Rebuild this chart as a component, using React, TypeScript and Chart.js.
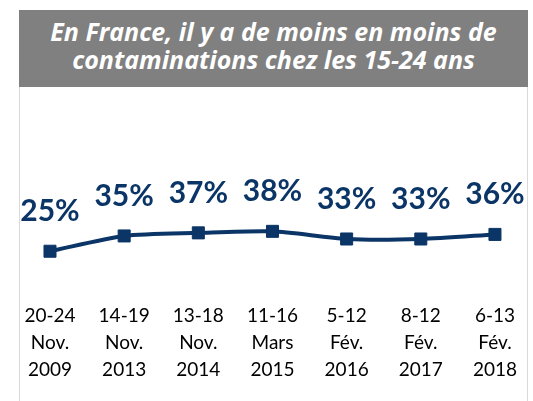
import React, { useEffect, useRef } from "react";
import { Chart, registerables } from "chart.js";

Chart.register(...registerables);

const titleLines = ["En France, il y a de moins en moins de", "contaminations chez les 15-24 ans"];
const categories: string[][] = [
  ["20-24", "Nov.", "2009"],
  ["14-19", "Nov.", "2013"],
  ["13-18", "Nov.", "2014"],
  ["11-16", "Mars", "2015"],
  ["5-12", "Fév.", "2016"],
  ["8-12", "Fév.", "2017"],
  ["6-13", "Fév.", "2018"],
];
const values: number[] = [25, 35, 37, 38, 33, 33, 36];

const NAVY = "#0b3566";

const labelPlugin = {
  id: "valueLabels",
  afterDatasetsDraw(chart: any) {
    const ctx = chart.ctx;
    const meta = chart.getDatasetMeta(0);
    ctx.save();
    ctx.beginPath();
    ctx.rect(20, 0, 507, 401);
    ctx.clip();
    ctx.fillStyle = NAVY;
    ctx.font = "bold 30px Lato";
    ctx.textAlign = "center";
    ctx.textBaseline = "alphabetic";
    meta.data.forEach((pt: any, i: number) => {
      ctx.fillText(values[i] + "%", pt.x, pt.y - 30);
    });
    ctx.restore();
  },
};

export default function App() {
  const ref = useRef<HTMLCanvasElement | null>(null);
  useEffect(() => {
    if (!ref.current) return;
    const chart = new Chart(ref.current, {
      type: "line",
      data: {
        labels: categories,
        datasets: [
          {
            data: values,
            borderColor: NAVY,
            backgroundColor: NAVY,
            borderWidth: 4,
            tension: 0.25,
            pointStyle: "rect",
            pointRadius: 8.5,
            pointBorderWidth: 1,
            pointBackgroundColor: NAVY,
            pointBorderColor: NAVY,
          },
        ],
      },
      options: {
        responsive: false,
        animation: false,
        devicePixelRatio: 1,
        layout: { padding: { left: 50, right: 32, top: 136.5, bottom: 2 } },
        plugins: { legend: { display: false }, tooltip: { enabled: false }, title: { display: false } },
        scales: {
          y: { display: false, min: 7.5, max: 100 },
          x: {
            offset: false,
            grid: { display: false },
            border: { display: false },
            ticks: {
              autoSkip: false,
              maxRotation: 0,
              minRotation: 0,
              padding: 16,
              color: "#000000",
              font: { family: "Lato", size: 19, lineHeight: 27 / 19 },
            },
          },
        },
      },
      plugins: [labelPlugin],
    });
    return () => chart.destroy();
  }, []);

  return (
    <div style={{ position: "fixed", left: 0, top: 0, width: 533, height: 401, background: "#fff", overflow: "hidden" }}>
      <div
        style={{
          position: "absolute",
          left: 19,
          top: 87,
          width: 507,
          height: 330,
          borderLeft: "1px solid #d9d9d9",
          borderRight: "1px solid #d9d9d9",
        }}
      />
      <canvas ref={ref} width={533} height={401} style={{ position: "absolute", left: 0, top: 0, width: 533, height: 401 }} />
      <div
        style={{
          position: "absolute",
          left: 19,
          top: 10,
          width: 509,
          height: 77,
          background: "#808080",
          color: "#ffffff",
          fontFamily: "'Open Sans'",
          fontWeight: 700,
          fontStyle: "italic",
          fontSize: 25,
          lineHeight: "28px",
          textAlign: "center",
          paddingTop: 7,
          boxSizing: "border-box",
          whiteSpace: "nowrap",
        }}
      >
        {titleLines.map((t, i) => (
          <div key={i}>{t}</div>
        ))}
      </div>
    </div>
  );
}
